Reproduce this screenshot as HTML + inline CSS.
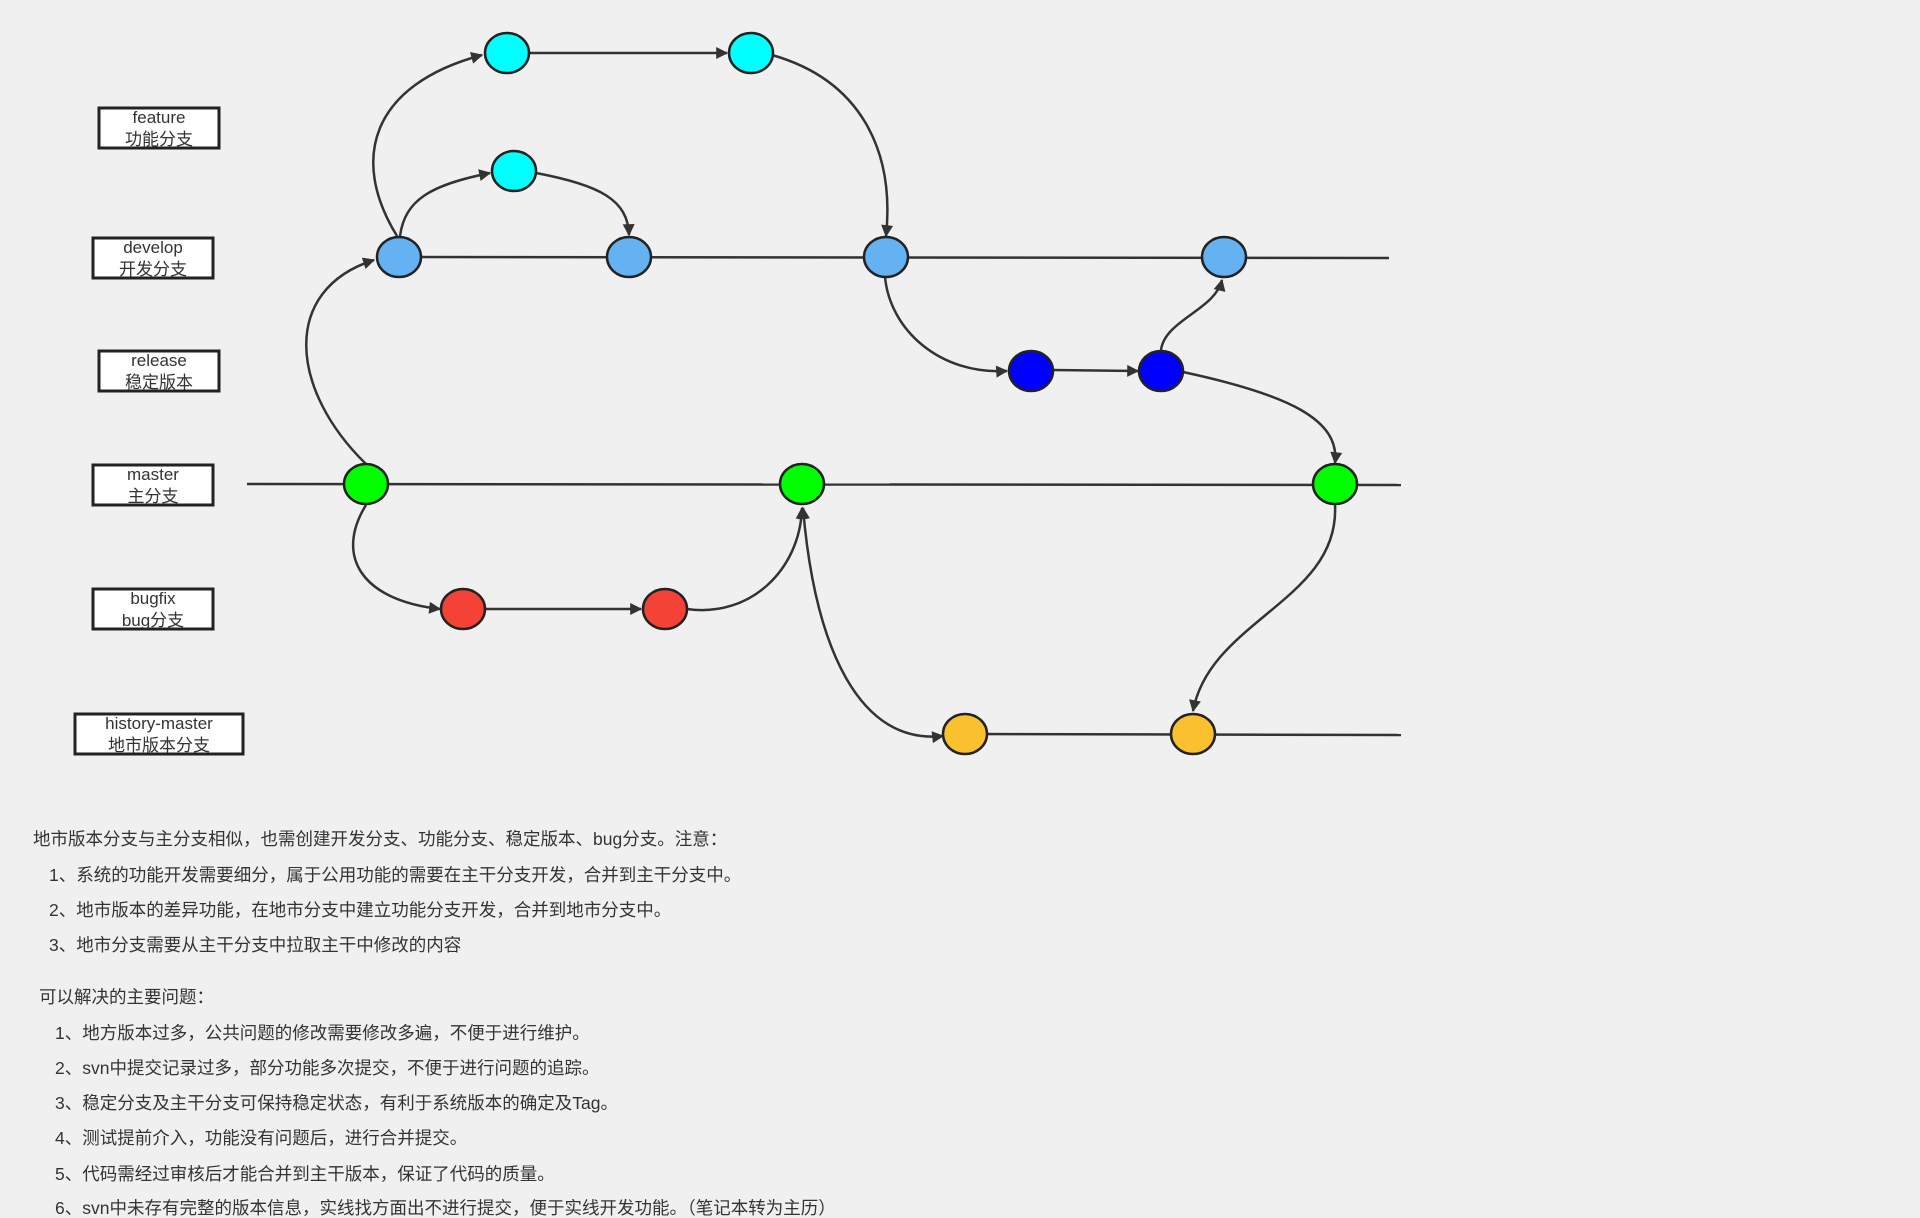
<!DOCTYPE html>
<html><head><meta charset="utf-8"><style>
html,body{margin:0;padding:0;background:#f0f0f0;}
body{width:1920px;height:1200px;overflow:hidden;position:relative;font-family:"Liberation Sans","Noto Sans CJK SC",sans-serif;}
svg{position:absolute;left:0;top:0;}
.t{position:absolute;font-size:17.5px;color:#333;white-space:nowrap;line-height:20px;}
</style></head><body>
<svg width="1920" height="1200" viewBox="0 0 1920 1200" font-family="Liberation Sans, Noto Sans CJK SC, sans-serif">
<defs>
<marker id="b" viewBox="0 0 10 10" refX="9" refY="5" markerWidth="14" markerHeight="12" orient="auto-start-reverse" markerUnits="userSpaceOnUse">
<path d="M0,0 L10,5 L0,10 z" fill="#333"/></marker>
</defs>
<g stroke="#333" stroke-width="2.5" fill="none">
<line x1="399" y1="257" x2="1389" y2="258"/>
<line x1="247" y1="484" x2="1401" y2="485"/>
<line x1="965" y1="734" x2="1401" y2="735"/>
<line x1="529" y1="53" x2="727" y2="53" marker-end="url(#b)"/>
<line x1="1052" y1="370" x2="1138" y2="371" marker-end="url(#b)"/>
<line x1="485" y1="609" x2="641" y2="609" marker-end="url(#b)"/>
<path d="M366,464 C290,390 280,290 374,260" marker-end="url(#b)"/>
<path d="M397,236 C350,160 370,85 482,55" marker-end="url(#b)"/>
<path d="M400,236 C405,200 430,185 490,173" marker-end="url(#b)"/>
<path d="M536,173 C600,185 628,200 629,235" marker-end="url(#b)"/>
<path d="M772,55 C860,80 895,150 886,236" marker-end="url(#b)"/>
<path d="M885,277 C890,330 940,375 1007,371" marker-end="url(#b)"/>
<path d="M1161,350 C1165,320 1215,310 1222,280" marker-end="url(#b)"/>
<path d="M1183,372 C1290,395 1340,420 1335,463" marker-end="url(#b)"/>
<path d="M366,505 C335,555 360,600 440,609" marker-end="url(#b)"/>
<path d="M687,609 C750,618 800,570 802,508" marker-end="url(#b)"/>
<path d="M943,736 C860,745 815,650 803,508" marker-start="url(#b)" marker-end="url(#b)"/>
<path d="M1335,505 C1340,600 1210,620 1193,711" marker-end="url(#b)"/>
</g>
<g stroke="#222" stroke-width="2.5">
<ellipse cx="507" cy="53" rx="22" ry="20" fill="#00ffff"/>
<ellipse cx="751" cy="53" rx="22" ry="20" fill="#00ffff"/>
<ellipse cx="514" cy="171" rx="22" ry="20" fill="#00ffff"/>
<ellipse cx="399" cy="257" rx="22" ry="20" fill="#64b2f2"/>
<ellipse cx="629" cy="257" rx="22" ry="20" fill="#64b2f2"/>
<ellipse cx="886" cy="257" rx="22" ry="20" fill="#64b2f2"/>
<ellipse cx="1224" cy="257" rx="22" ry="20" fill="#64b2f2"/>
<ellipse cx="1031" cy="371" rx="22" ry="20" fill="#0000ff"/>
<ellipse cx="1161" cy="371" rx="22" ry="20" fill="#0000ff"/>
<ellipse cx="366" cy="484" rx="22" ry="20" fill="#00ff00"/>
<ellipse cx="802" cy="484" rx="22" ry="20" fill="#00ff00"/>
<ellipse cx="1335" cy="484" rx="22" ry="20" fill="#00ff00"/>
<ellipse cx="463" cy="609" rx="22" ry="20" fill="#f44336"/>
<ellipse cx="665" cy="609" rx="22" ry="20" fill="#f44336"/>
<ellipse cx="965" cy="734" rx="22" ry="20" fill="#fbc02d"/>
<ellipse cx="1193" cy="734" rx="22" ry="20" fill="#fbc02d"/>
</g>
<g stroke="#222" stroke-width="3" fill="#fff">
<rect x="99" y="108" width="120" height="40"/>
<rect x="93" y="238" width="120" height="40"/>
<rect x="99" y="351" width="120" height="40"/>
<rect x="93" y="465" width="120" height="40"/>
<rect x="93" y="589" width="120" height="40"/>
<rect x="75" y="714" width="168" height="40"/>
</g>
<g fill="#333" font-size="17" text-anchor="middle">
<text x="159" y="123">feature</text><text x="159" y="145">功能分支</text>
<text x="153" y="253">develop</text><text x="153" y="275">开发分支</text>
<text x="159" y="366">release</text><text x="159" y="388">稳定版本</text>
<text x="153" y="480">master</text><text x="153" y="502">主分支</text>
<text x="153" y="604">bugfix</text><text x="153" y="626">bug分支</text>
<text x="159" y="729">history-master</text><text x="159" y="751">地市版本分支</text>
</g>
</svg>
<div class="t" style="left:33px;top:829px">地市版本分支与主分支相似，也需创建开发分支、功能分支、稳定版本、bug分支。注意：</div>
<div class="t" style="left:49px;top:865px">1、系统的功能开发需要细分，属于公用功能的需要在主干分支开发，合并到主干分支中。</div>
<div class="t" style="left:49px;top:900px">2、地市版本的差异功能，在地市分支中建立功能分支开发，合并到地市分支中。</div>
<div class="t" style="left:49px;top:935px">3、地市分支需要从主干分支中拉取主干中修改的内容</div>
<div class="t" style="left:39px;top:987px">可以解决的主要问题：</div>
<div class="t" style="left:55px;top:1023px">1、地方版本过多，公共问题的修改需要修改多遍，不便于进行维护。</div>
<div class="t" style="left:55px;top:1058px">2、svn中提交记录过多，部分功能多次提交，不便于进行问题的追踪。</div>
<div class="t" style="left:55px;top:1093px">3、稳定分支及主干分支可保持稳定状态，有利于系统版本的确定及Tag。</div>
<div class="t" style="left:55px;top:1128px">4、测试提前介入，功能没有问题后，进行合并提交。</div>
<div class="t" style="left:55px;top:1164px">5、代码需经过审核后才能合并到主干版本，保证了代码的质量。</div>
<div class="t" style="left:55px;top:1198px">6、svn中未存有完整的版本信息，实线找方面出不进行提交，便于实线开发功能。（笔记本转为主历）</div>
</body></html>
